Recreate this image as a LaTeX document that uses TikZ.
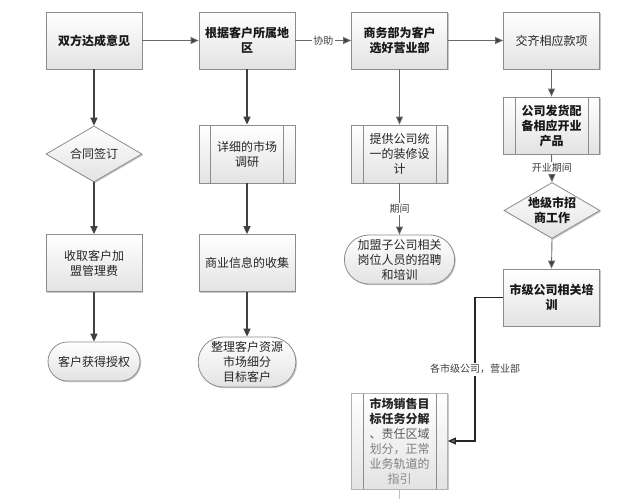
\documentclass[tikz,border=0pt]{standalone}
\usepackage{fontspec}
\setmainfont{Noto Sans CJK SC}
\usetikzlibrary{shapes.geometric,shapes.misc,arrows.meta,shadows}
\definecolor{bordc}{HTML}{8C8C8C}
\definecolor{arrc}{HTML}{404040}
\definecolor{arrlc}{HTML}{6A6A6A}
\begin{document}
\begin{tikzpicture}[x=1pt,y=-1pt,
 base/.style={draw=bordc, line width=0.8pt, top color=white, bottom color=black!11,
   drop shadow={shadow xshift=1.2pt,shadow yshift=-1.2pt,opacity=0.22,fill=black},
   align=center, font=\fontsize{12}{15}\selectfont, text=black!85, inner sep=2pt},
 box/.style={base, rectangle, minimum width=96pt, minimum height=57pt},
 predef/.style={box, path picture={
   \draw[draw=bordc, line width=0.8pt] ([xshift=11.5pt]path picture bounding box.north west) -- ([xshift=11.5pt]path picture bounding box.south west);
   \draw[draw=bordc, line width=0.8pt] ([xshift=-11.5pt]path picture bounding box.north east) -- ([xshift=-11.5pt]path picture bounding box.south east);}},
 term/.style={base, rounded rectangle, minimum width=96pt},
 dia/.style={base, diamond, aspect=1.75, minimum width=96pt, minimum height=56pt, inner sep=-2pt},
 lbl/.style={fill=white, inner sep=1.5pt, font=\fontsize{10}{12}\selectfont, text=black!75},
 arr/.style={-{Triangle[length=8pt,width=7pt,fill=arrc]}, line width=1.5pt, draw=arrc},
 arrl/.style={-{Triangle[length=8pt,width=7pt,fill=arrc]}, line width=0.9pt, draw=arrlc},
 bf/.style={font=\fontsize{12}{15}\selectfont\bfseries, text=black!90}
]
\useasboundingbox[fill=white] (0,0) rectangle (640,499);

% top row
\node[box,bf] (n1) at (94,40.5) {双方达成意见};
\node[box,bf] (n2) at (247,40.5) {根据客户所属地\\区};
\node[box,bf] (n3) at (399.5,40.5) {商务部为客户\\选好营业部};
\node[box] (n4) at (551.5,40.5) {交齐相应款项};

% column 1
\node[dia] (d1) at (94,154) {合同签订};
\node[box] (n5) at (94,263) {收取客户加\\盟管理费};
\node[term, minimum height=39pt] (t1) at (94,361.5) {客户获得授权};

% column 2
\node[predef, minimum height=58pt] (p1) at (247,154) {详细的市场\\调研};
\node[box] (n6) at (247,263) {商业信息的收集};
\node[term, minimum height=50pt] (t2) at (247,362) {整理客户资源\\市场细分\\目标客户};

% column 3
\node[predef, minimum height=58pt] (p2) at (399.5,154) {提供公司统\\一的装修设\\计};
\node[term, minimum height=49pt] (t3) at (399.5,259.5) {加盟子公司相关\\岗位人员的招聘\\和培训};

% column 4
\node[predef, bf] (p3) at (551.5,125.5) {公司发货配\\备相应开业\\产品};
\node[dia, bf] (d2) at (552,210.5) {地级市招\\商工作};
\node[box, bf] (n7) at (551.5,297.5) {市级公司相关培\\训};

% bottom box
\node[predef, draw=black!30, minimum height=96pt] (p4) at (399.5,441)
 {\textbf{市场销售目}\\\textbf{标任务分解}\\\textcolor{black!65}{、责任区域}\\\textcolor{black!50}{划分，正常}\\\textcolor{black!50}{业务轨道的}\\\textcolor{black!45}{指引}};

% connectors top row
\draw[arrl] (n1.east) -- (n2.west);
\draw[arrl] (n2.east) -- node[lbl] {协助} (n3.west);
\draw[arrl] (n3.east) -- (n4.west);

% column 1
\draw[arr] (n1.south) -- (d1.north);
\draw[arr] (d1.south) -- (n5.north);
\draw[arr] (n5.south) -- (t1.north);

% column 2
\draw[arr] (n2.south) -- (p1.north);
\draw[arr] (p1.south) -- (n6.north);
\draw[arr] (n6.south) -- (t2.north);

% column 3
\draw[arrl] (n3.south) -- (p2.north);
\draw[arrl] (p2.south) -- node[lbl] {期间} (t3.north);

% column 4
\draw[arrl] (n4.south) -- (p3.north);
\draw[arrl] (p3.south) -- node[lbl] {开业期间} (d2.north);
\draw[arrl] (d2.south) -- (n7.north);

% elbow to bottom box
\coordinate (bend) at (475,297.5);
\draw[-{Triangle[length=8pt,width=7pt,fill=arrlc]}, line width=1.2pt, draw=black!85]
  (n7.west) -- (bend) |- node[lbl, pos=0.25] {各市级公司，营业部} (p4.east);

% faint continuation below bottom box
\coordinate (offpage) at (399.5,499);
\draw[draw=black!25, line width=0.8pt] (p4.south) -- (offpage);
\end{tikzpicture}
\end{document}
